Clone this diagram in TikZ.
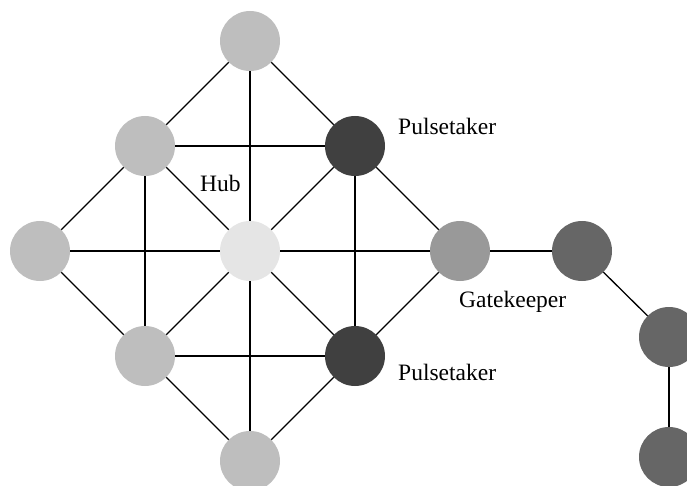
\documentclass[tikz,border=0pt]{standalone}
\usepackage{fontspec}
\setmainfont{Liberation Serif}
\begin{document}
\begin{tikzpicture}[x=1pt,y=-1pt,
  peer/.style={circle,inner sep=0pt,minimum size=60pt,fill=#1},
  link/.style={line width=1.3pt,black},
  tag/.style={inner sep=0pt,anchor=base west,font=\fontsize{23.5}{28}\selectfont}]
\useasboundingbox (0,0) rectangle (687,486);
\clip (0,0) rectangle (687,486);
\definecolor{plain}{gray}{0.745}
\definecolor{hubc}{gray}{0.90}
\definecolor{pulse}{gray}{0.25}
\definecolor{gate}{gray}{0.60}
\definecolor{chain}{gray}{0.40}
% nodes of the diamond
\node[peer=plain] (t)  at (250,41)  {};
\node[peer=plain] (ul) at (145,146) {};
\node[peer=pulse] (ur) at (355,146) {};
\node[peer=plain] (l)  at (40,251)  {};
\node[peer=hubc]  (h)  at (250,251) {};
\node[peer=gate]  (g)  at (460,251) {};
\node[peer=plain] (ll) at (145,356) {};
\node[peer=pulse] (lr) at (355,356) {};
\node[peer=plain] (b)  at (250,461) {};
% tail chain
\node[peer=chain] (c1) at (582,251) {};
\node[peer=chain] (c2) at (669,337) {};
\node[peer=chain] (c3) at (669,457) {};
% links
\draw[link] (t) -- (ul);
\draw[link] (t) -- (ur);
\draw[link] (t) -- (h);
\draw[link] (ul) -- (ur);
\draw[link] (ul) -- (l);
\draw[link] (ul) -- (h);
\draw[link] (ul) -- (ll);
\draw[link] (ur) -- (h);
\draw[link] (ur) -- (lr);
\draw[link] (ur) -- (g);
\draw[link] (l) -- (h);
\draw[link] (l) -- (ll);
\draw[link] (h) -- (g);
\draw[link] (h) -- (ll);
\draw[link] (h) -- (lr);
\draw[link] (h) -- (b);
\draw[link] (g) -- (lr);
\draw[link] (ll) -- (lr);
\draw[link] (ll) -- (b);
\draw[link] (lr) -- (b);
\draw[link] (g) -- (c1);
\draw[link] (c1) -- (c2);
\draw[link] (c2) -- (c3);
% labels
\node[tag] (lhub) at (200,192) {Hub};
\node[tag] (lp1) at (398,135) {Pulsetaker};
\node[tag] (lp2) at (398,380) {Pulsetaker};
\node[tag] (lg) at (459,307) {Gatekeeper};
\end{tikzpicture}
\end{document}
